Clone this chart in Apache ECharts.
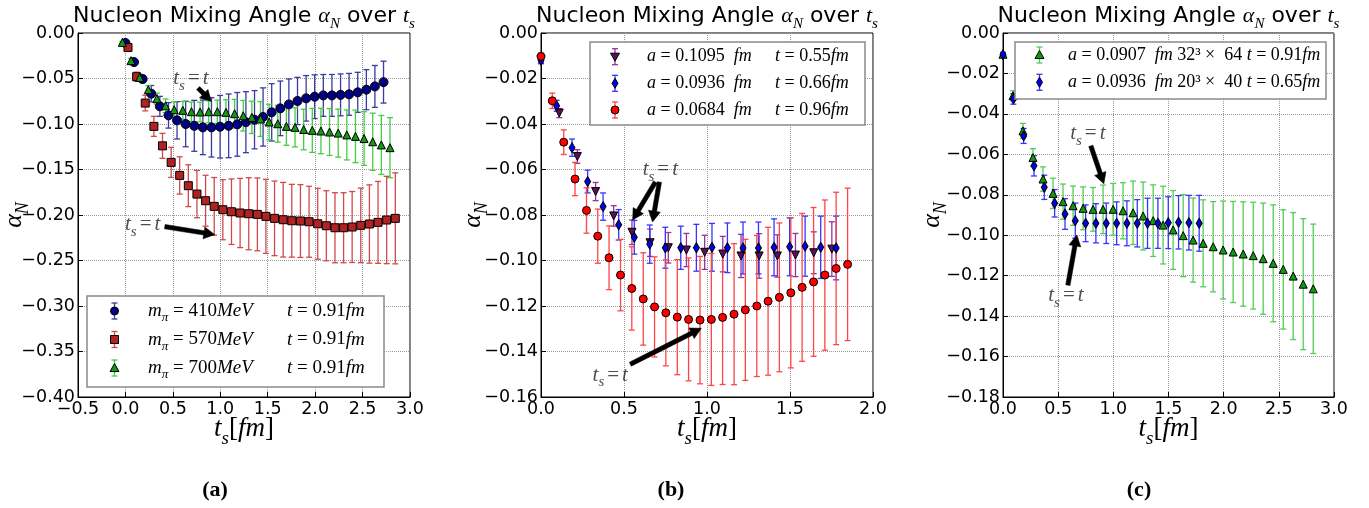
<!DOCTYPE html>
<html><head><meta charset="utf-8">
<script src="https://cdn.jsdelivr.net/npm/echarts@6/dist/echarts.min.js"></script>
<style>html,body{margin:0;padding:0;background:#fff}#c{width:1369px;height:508px}</style>
</head><body><div id="c"></div>
<script>
// ---------------- Panel (a) ----------------
const aBlueX = [0.000,0.091,0.181,0.272,0.363,0.454,0.544,0.635,0.726,0.816,0.907,0.998,1.088,1.179,1.270,1.361,1.451,1.542,1.633,1.723,1.814,1.905,1.995,2.086,2.177,2.268,2.358,2.449,2.540,2.630,2.721];
const aBlueY = [-0.011,-0.032,-0.0506,-0.0667,-0.0806,-0.0905,-0.096,-0.100,-0.102,-0.1037,-0.1037,-0.103,-0.102,-0.1004,-0.098,-0.0953,-0.0923,-0.0872,-0.0828,-0.0785,-0.0747,-0.0718,-0.070,-0.0686,-0.0686,-0.068,-0.0674,-0.0652,-0.0623,-0.0587,-0.054];
const aBlueE = [0.002,0.003,0.004,0.009,0.011,0.014,0.0205,0.025,0.028,0.030,0.0326,0.0344,0.035,0.035,0.0335,0.032,0.032,0.0315,0.030,0.028,0.026,0.025,0.024,0.023,0.023,0.023,0.023,0.022,0.022,0.023,0.023];

const aRedX = [0.027,0.118,0.209,0.300,0.391,0.482,0.572,0.663,0.754,0.845,0.936,1.027,1.118,1.209,1.300,1.391,1.481,1.572,1.663,1.754,1.845,1.936,2.027,2.118,2.209,2.300,2.390,2.481,2.572,2.663,2.754,2.845];
const aRedY = [-0.016,-0.048,-0.077,-0.1026,-0.124,-0.1422,-0.1565,-0.1678,-0.177,-0.1843,-0.1905,-0.1942,-0.1964,-0.1978,-0.1986,-0.1993,-0.2015,-0.2037,-0.2052,-0.2063,-0.2066,-0.2074,-0.2096,-0.2118,-0.214,-0.214,-0.2132,-0.2114,-0.2099,-0.2081,-0.2055,-0.2037];
const aRedE = [0.002,0.005,0.0086,0.011,0.0137,0.0165,0.0205,0.023,0.026,0.028,0.0317,0.033,0.036,0.038,0.0396,0.040,0.0407,0.041,0.041,0.040,0.040,0.039,0.039,0.0385,0.0385,0.0385,0.039,0.041,0.043,0.045,0.048,0.050];

const aGreenX = [-0.032,0.059,0.150,0.241,0.332,0.423,0.514,0.605,0.696,0.787,0.878,0.969,1.060,1.151,1.242,1.333,1.424,1.515,1.606,1.697,1.788,1.879,1.970,2.061,2.152,2.243,2.334,2.425,2.516,2.607,2.698,2.789];
const aGreenY = [-0.0103,-0.0304,-0.0488,-0.0623,-0.0722,-0.080,-0.0843,-0.085,-0.0865,-0.0868,-0.0865,-0.0865,-0.0872,-0.0887,-0.0909,-0.0927,-0.0945,-0.0978,-0.0997,-0.1026,-0.1037,-0.106,-0.107,-0.1077,-0.1088,-0.110,-0.112,-0.1136,-0.116,-0.1195,-0.123,-0.126];
const aGreenE = [0.001,0.0025,0.0037,0.0045,0.006,0.0075,0.0087,0.0097,0.0106,0.0108,0.012,0.0128,0.0139,0.0157,0.0168,0.0177,0.0192,0.0195,0.0203,0.0208,0.0215,0.0223,0.0242,0.025,0.0258,0.0264,0.0275,0.0289,0.0295,0.0314,0.0324,0.033];

// ---------------- Panel (b) ----------------
const bPurpleX = [0,0.110,0.219,0.329,0.438,0.548,0.657,0.767,0.876,0.986,1.095,1.205,1.314,1.424,1.533,1.643,1.752];
const bPurpleY = [-0.0115,-0.0352,-0.0543,-0.0697,-0.0804,-0.0876,-0.0922,-0.0944,-0.0954,-0.0964,-0.0972,-0.098,-0.098,-0.098,-0.0976,-0.0966,-0.095];
const bPurpleE = [0.0015,0.002,0.003,0.004,0.0045,0.0054,0.006,0.0067,0.0073,0.0075,0.0078,0.0095,0.0098,0.0093,0.0095,0.0092,0.012];

const bBlueX = [0,0.094,0.187,0.281,0.374,0.468,0.562,0.655,0.749,0.842,0.936,1.030,1.123,1.217,1.310,1.404,1.498,1.591,1.685,1.778];
const bBlueY = [-0.012,-0.032,-0.0504,-0.0653,-0.0763,-0.0843,-0.0898,-0.0928,-0.0944,-0.0944,-0.0944,-0.0942,-0.0944,-0.0945,-0.0945,-0.0942,-0.094,-0.0937,-0.0942,-0.0945];
const bBlueE = [0.0015,0.0024,0.0038,0.005,0.006,0.0067,0.0074,0.0084,0.009,0.0095,0.0103,0.0105,0.0109,0.0114,0.0114,0.0125,0.0127,0.0132,0.0137,0.014];

const bRedX = [0,0.068,0.137,0.205,0.274,0.342,0.410,0.479,0.547,0.616,0.684,0.752,0.821,0.889,0.958,1.026,1.094,1.163,1.231,1.300,1.368,1.436,1.505,1.573,1.642,1.710,1.778,1.847];
const bRedY = [-0.0103,-0.0298,-0.048,-0.0642,-0.078,-0.0893,-0.0988,-0.1064,-0.1123,-0.1169,-0.1204,-0.123,-0.1249,-0.1259,-0.1262,-0.1259,-0.125,-0.1236,-0.1217,-0.120,-0.1179,-0.1162,-0.1142,-0.1118,-0.1094,-0.1064,-0.1035,-0.1017];
const bRedE = [0.0015,0.0034,0.0054,0.0073,0.010,0.0119,0.014,0.0157,0.0183,0.0203,0.022,0.0233,0.0253,0.027,0.028,0.029,0.0295,0.031,0.031,0.031,0.0325,0.0327,0.033,0.0325,0.0327,0.033,0.0335,0.0335];

// ---------------- Panel (c) ----------------
const cGreenX = [0,0.091,0.181,0.272,0.363,0.454,0.544,0.635,0.726,0.816,0.907,0.998,1.088,1.179,1.270,1.361,1.451,1.542,1.633,1.723,1.814,1.905,1.995,2.086,2.177,2.268,2.358,2.449,2.540,2.630,2.721,2.812];
const cGreenY = [-0.0105,-0.031,-0.0484,-0.0616,-0.0722,-0.0793,-0.0834,-0.0854,-0.0867,-0.0872,-0.0872,-0.0872,-0.0879,-0.0889,-0.0905,-0.0928,-0.095,-0.0974,-0.1002,-0.1024,-0.104,-0.1057,-0.1073,-0.1083,-0.1093,-0.1101,-0.1116,-0.1139,-0.1169,-0.1202,-0.1242,-0.1265];
const cGreenE = [0.001,0.0025,0.0037,0.0044,0.006,0.0075,0.0087,0.0097,0.0106,0.0108,0.012,0.0128,0.0139,0.0157,0.0168,0.0177,0.0192,0.0195,0.0203,0.0208,0.0215,0.0223,0.0242,0.025,0.0258,0.0264,0.0275,0.0289,0.0295,0.0314,0.0324,0.032];

const cBlueX = [0,0.094,0.187,0.281,0.374,0.468,0.562,0.655,0.749,0.842,0.936,1.030,1.123,1.217,1.310,1.404,1.498,1.591,1.685,1.778];
const cBlueY = [-0.0107,-0.0326,-0.0509,-0.0657,-0.0763,-0.0842,-0.0895,-0.0928,-0.0941,-0.0941,-0.0941,-0.0941,-0.0941,-0.0941,-0.0941,-0.0941,-0.0938,-0.0936,-0.0938,-0.0941];
const cBlueE = [0.001,0.0026,0.0037,0.005,0.006,0.0068,0.0076,0.0087,0.0091,0.0097,0.010,0.0106,0.0111,0.0117,0.0124,0.0124,0.0128,0.0132,0.0135,0.0138];

// axis ticks
const xTicksA = {min:-0.5, max:3.0, interval:0.5, dec:1};
const yTicksA = {min:-0.40, max:0, interval:0.05, dec:2};
const xTicksB = {min:0, max:2.0, interval:0.5, dec:1};
const yTicksB = {min:-0.16, max:0, interval:0.02, dec:2};
const xTicksC = {min:0, max:3.0, interval:0.5, dec:1};
const yTicksC = {min:-0.18, max:0, interval:0.02, dec:2};

// annotations (data coordinates): text position, arrows [x1,y1,x2,y2]
const annA = [{at:[0.69,-0.0502], arrows:[[0.766,-0.0605,0.907,-0.0752]]},
              {at:[0.182,-0.2107], arrows:[[0.415,-0.2128,0.942,-0.2216]]}];
const annB = [{at:[0.719,-0.0602], arrows:[[0.689,-0.0655,0.552,-0.0822],[0.713,-0.0655,0.672,-0.0831]]},
              {at:[0.417,-0.1505], arrows:[[0.538,-0.1456,0.966,-0.1298]]}];
const annC = [{at:[0.769,-0.0499], arrows:[[0.796,-0.0558,0.914,-0.0746]]},
              {at:[0.57,-0.130], arrows:[[0.588,-0.1247,0.669,-0.0999]]}];

// ---------------- rendering ----------------
const FS = '"DejaVu Sans", Verdana, sans-serif', FM = '"Liberation Serif", serif';
function rich(size, color){
  color = color || '#000';
  const lh = Math.round(size*1.4), ss = Math.round(size*0.7);
  return {
    i:{fontFamily:FM,fontStyle:'italic',fontSize:size,lineHeight:lh,color:color,fill:color},
    n:{fontFamily:FM,fontSize:size,lineHeight:lh,color:color,fill:color},
    r:{fontFamily:FS,fontSize:size,lineHeight:lh,color:color,fill:color},
    e:{fontFamily:FM,fontSize:size,lineHeight:lh,color:color,fill:color,padding:[0,3,0,3]},
    s:{fontFamily:FM,fontStyle:'italic',fontSize:ss,verticalAlign:'bottom',color:color,fill:color}
  };
}
function richG(size, color, sansSize){
  const r = rich(size, color), ss = Math.round(size*0.7);
  r.i.font = 'italic ' + size + 'px ' + FM;
  r.n.font = size + 'px ' + FM;
  r.r.font = (sansSize || size) + 'px ' + FS;
  r.e.font = size + 'px ' + FM;
  r.s.font = 'italic ' + ss + 'px ' + FM;
  return r;
}
function fmt(dec){ return v => Math.abs(v) < 1e-9 ? (0).toFixed(dec) : (v < 0 ? '\u2212' : '') + Math.abs(v).toFixed(dec); }

const grids = [
  {left:78, top:33, width:332, height:364},
  {left:541, top:33, width:332, height:364},
  {left:1003, top:33, width:331, height:364}
];
const xT = [xTicksA, xTicksB, xTicksC], yT = [yTicksA, yTicksB, yTicksC];
const yNameGap = [46, 50, 53];

const series = [];
function errRender(params, api){
  const x = api.value(0), y = api.value(1), e = api.value(2);
  const p1 = api.coord([x, y + e]), p2 = api.coord([x, y - e]);
  const w = 3, st = {stroke: api.visual('color'), lineWidth: 1.3};
  return {type:'group', children:[
    {type:'line', shape:{x1:p1[0],y1:p1[1],x2:p2[0],y2:p2[1]}, style:st},
    {type:'line', shape:{x1:p1[0]-w,y1:p1[1],x2:p1[0]+w,y2:p1[1]}, style:st},
    {type:'line', shape:{x1:p2[0]-w,y1:p2[1],x2:p2[0]+w,y2:p2[1]}, style:st}
  ]};
}
function arrowRender(params, api){
  const a = api.coord([api.value(0), api.value(1)]), b = api.coord([api.value(2), api.value(3)]);
  const dx = b[0]-a[0], dy = b[1]-a[1], L = Math.sqrt(dx*dx+dy*dy) || 1;
  const ux = dx/L, uy = dy/L, nx = -uy, ny = ux;
  const bw = 2.2, hw = 6, hl = Math.min(11, L*0.6);
  const nkx = b[0]-ux*hl, nky = b[1]-uy*hl;
  const pts = [[a[0]+nx*bw, a[1]+ny*bw],[nkx+nx*bw, nky+ny*bw],[nkx+nx*hw, nky+ny*hw],[b[0],b[1]],
               [nkx-nx*hw, nky-ny*hw],[nkx-nx*bw, nky-ny*bw],[a[0]-nx*bw, a[1]-ny*bw]];
  return {type:'polygon', shape:{points:pts}, style:{fill:'#000', stroke:'#000', lineWidth:0.5}};
}
function addSet(gi, X, Y, E, symbol, size, fill, errColor, rot){
  series.push({type:'custom', xAxisIndex:gi, yAxisIndex:gi, renderItem:errRender, silent:true,
    encode:{x:0, y:1}, itemStyle:{color:errColor}, data:X.map((x,k)=>[x, Y[k], E[k]])});
  series.push({type:'scatter', xAxisIndex:gi, yAxisIndex:gi, silent:true, symbol:symbol, symbolSize:size,
    symbolRotate:rot||0, itemStyle:{color:fill, borderColor:'#000', borderWidth:1, opacity:1},
    data:X.map((x,k)=>[x, Y[k]])});
}
function addAnn(gi, ann){
  const arrows = [];
  ann.forEach(a => a.arrows.forEach(ar => arrows.push(ar)));
  series.push({type:'custom', xAxisIndex:gi, yAxisIndex:gi, renderItem:arrowRender, silent:true, z:6,
    encode:{x:[0,2], y:[1,3]}, data:arrows});
  series.push({type:'scatter', xAxisIndex:gi, yAxisIndex:gi, silent:true, symbolSize:1, z:5,
    itemStyle:{color:'rgba(0,0,0,0)'},
    label:{show:true, position:'inside', formatter:'{i|t}{s|s}{e|=}{i|t}', rich:rich(21,'#222')},
    data:ann.map(a => a.at)});
}

// panel (a): blue, red, green
addSet(0, aBlueX, aBlueY, aBlueE, 'circle', 9, '#000080', '#3a3aa0');
addSet(0, aRedX, aRedY, aRedE, 'rect', 8, '#b22222', '#cf4a4a');
addSet(0, aGreenX, aGreenY, aGreenE, 'triangle', 8, '#119911', '#44cc44');
addAnn(0, annA);
// panel (b)
addSet(1, bPurpleX, bPurpleY, bPurpleE, 'triangle', 8, '#5a0f5e', '#993399', 180);
addSet(1, bBlueX, bBlueY, bBlueE, 'diamond', [6,10], '#0000ee', '#3535ff');
addSet(1, bRedX, bRedY, bRedE, 'circle', 8, '#ff0000', '#ff4545');
addAnn(1, annB);
// panel (c)
addSet(2, cGreenX, cGreenY, cGreenE, 'triangle', 8, '#119911', '#55cc55');
addSet(2, cBlueX, cBlueY, cBlueE, 'diamond', [6,10], '#0000ee', '#3535ff');
addAnn(2, annC);

// ---------- legends, titles, captions (layout) ----------
function markerEl(type, x, y, fill){
  const st = {fill:fill, stroke:'#000', lineWidth:1};
  if (type === 'circle') return {type:'circle', shape:{cx:x, cy:y, r:4}, style:st, z:101};
  if (type === 'rect') return {type:'rect', shape:{x:x-4, y:y-4, width:8, height:8}, style:st, z:101};
  if (type === 'tri') return {type:'polygon', shape:{points:[[x,y-4.5],[x+4.5,y+3.5],[x-4.5,y+3.5]]}, style:st, z:101};
  if (type === 'trid') return {type:'polygon', shape:{points:[[x,y+4.5],[x+4.5,y-3.5],[x-4.5,y-3.5]]}, style:st, z:101};
  return {type:'polygon', shape:{points:[[x,y-5],[x+3,y],[x,y+5],[x-3,y]]}, style:st, z:101};
}
function legendEls(box, rows, size){
  const els = [{type:'rect', shape:{x:box.x, y:box.y, width:box.w, height:box.h},
    style:{fill:'#fff', stroke:'#8a8a8a', lineWidth:1.5}, z:100}];
  rows.forEach(r => {
    const st = {stroke:r.err, lineWidth:1.3};
    els.push({type:'line', shape:{x1:r.mx, y1:r.y-8, x2:r.mx, y2:r.y+8}, style:st, z:101});
    els.push({type:'line', shape:{x1:r.mx-3, y1:r.y-8, x2:r.mx+3, y2:r.y-8}, style:st, z:101});
    els.push({type:'line', shape:{x1:r.mx-3, y1:r.y+8, x2:r.mx+3, y2:r.y+8}, style:st, z:101});
    els.push(markerEl(r.m, r.mx, r.y, r.fill));
    r.t.forEach(t => els.push({type:'text', x:t[0], y:r.y, z:102,
      style:{text:t[1], rich:richG(size), fill:'#000', align:'left', textAlign:'left', verticalAlign:'middle', textVerticalAlign:'middle'}}));
  });
  return els;
}
const legA = legendEls({x:87, y:296, w:297, h:91}, [
  {y:311, mx:114.5, m:'circle', fill:'#000080', err:'#3a3aa0', t:[[148,'{i|m}{s|π}{n| = 410}{i|MeV}'],[287,'{i|t}{n| = 0.91}{i|fm}']]},
  {y:339.5, mx:114.5, m:'rect', fill:'#b22222', err:'#cf4a4a', t:[[148,'{i|m}{s|π}{n| = 570}{i|MeV}'],[287,'{i|t}{n| = 0.91}{i|fm}']]},
  {y:368, mx:114.5, m:'tri', fill:'#119911', err:'#44cc44', t:[[148,'{i|m}{s|π}{n| = 700}{i|MeV}'],[287,'{i|t}{n| = 0.91}{i|fm}']]}
], 19);
const legB = legendEls({x:590, y:42, w:275, h:83}, [
  {y:56.7, mx:615, m:'trid', fill:'#5a0f5e', err:'#993399', t:[[647,'{i|a}{n| = 0.1095  }{i|fm}'],[775,'{i|t}{n| = 0.55}{i|fm}']]},
  {y:83.3, mx:615, m:'dia', fill:'#0000ee', err:'#3535ff', t:[[647,'{i|a}{n| = 0.0936  }{i|fm}'],[775,'{i|t}{n| = 0.66}{i|fm}']]},
  {y:110, mx:615, m:'circle', fill:'#ff0000', err:'#ff4545', t:[[647,'{i|a}{n| = 0.0684  }{i|fm}'],[775,'{i|t}{n| = 0.96}{i|fm}']]}
], 18);
const legC = legendEls({x:1015, y:42, w:311, h:57}, [
  {y:55, mx:1039.5, m:'tri', fill:'#119911', err:'#55cc55', t:[[1068,'{i|a}{n| = 0.0907  }{i|fm}{n| 32³ ×  64 }{i|t}{n| = 0.91}{i|fm}']]},
  {y:82.3, mx:1039.5, m:'dia', fill:'#0000ee', err:'#3535ff', t:[[1068,'{i|a}{n| = 0.0936  }{i|fm}{n| 20³ ×  40 }{i|t}{n| = 0.65}{i|fm}']]}
], 18);

const titleText = '{r|Nucleon Mixing Angle }{i|α}{s|N}{r| over }{i|t}{s|s}';
const titles = grids.map(g => ({type:'text', x:g.left + g.width/2, y:16, z:50,
  style:{text:titleText, rich:richG(22, '#000', 22), fill:'#000', align:'center', textAlign:'center', verticalAlign:'middle', textVerticalAlign:'middle'}}));
const captionsText = ['(a)','(b)','(c)'];
const captionX = [215, 671, 1139];
const captions = captionsText.map((c,k) => ({type:'text', x:captionX[k], y:490, z:50,
  style:{text:c, font:'bold 22px "Liberation Serif", serif', fill:'#000', align:'center', textAlign:'center', verticalAlign:'middle', textVerticalAlign:'middle'}}));

const option = {
  animation:false,
  backgroundColor:'#fff',
  grid: grids.map(g => Object.assign({show:true, borderColor:'#000', borderWidth:1, backgroundColor:'transparent',
    containLabel:false, outerBoundsMode:'none'}, g)),
  xAxis: grids.map((g,i) => ({type:'value', gridIndex:i, min:xT[i].min, max:xT[i].max, interval:xT[i].interval,
    axisLine:{show:true, onZero:false, lineStyle:{color:'#000', width:1}},
    axisTick:{show:true, inside:true, length:5, lineStyle:{color:'#000'}},
    axisLabel:{formatter:fmt(xT[i].dec), color:'#000', fontFamily:FS, fontSize:17.5, margin:3},
    splitLine:{show:true, lineStyle:{color:'#9a9a9a', type:'dotted', width:1}},
    name:'{i|t}{s|s}{n|[}{i|fm}{n|]}', nameLocation:'middle', nameGap:13, nameMoveOverlap:false,
    nameTextStyle:{rich:rich(27)}})),
  yAxis: grids.map((g,i) => ({type:'value', gridIndex:i, min:yT[i].min, max:yT[i].max, interval:yT[i].interval,
    axisLine:{show:true, onZero:false, lineStyle:{color:'#000', width:1}},
    axisTick:{show:true, inside:true, length:5, lineStyle:{color:'#000'}},
    axisLabel:{formatter:fmt(yT[i].dec), color:'#000', fontFamily:FS, fontSize:17.5, margin:3},
    splitLine:{show:true, lineStyle:{color:'#9a9a9a', type:'dotted', width:1}},
    name:'{i|α}{s|N}', nameLocation:'middle', nameRotate:90, nameGap:yNameGap[i], nameMoveOverlap:false,
    nameTextStyle:{rich:rich(26)}})),
  series: series,
  graphic: {elements: [].concat(titles, captions, legA, legB, legC)}
};
const chart = echarts.init(document.getElementById('c'), null, {width:1369, height:508});
chart.setOption(option);
</script>
</body></html>
